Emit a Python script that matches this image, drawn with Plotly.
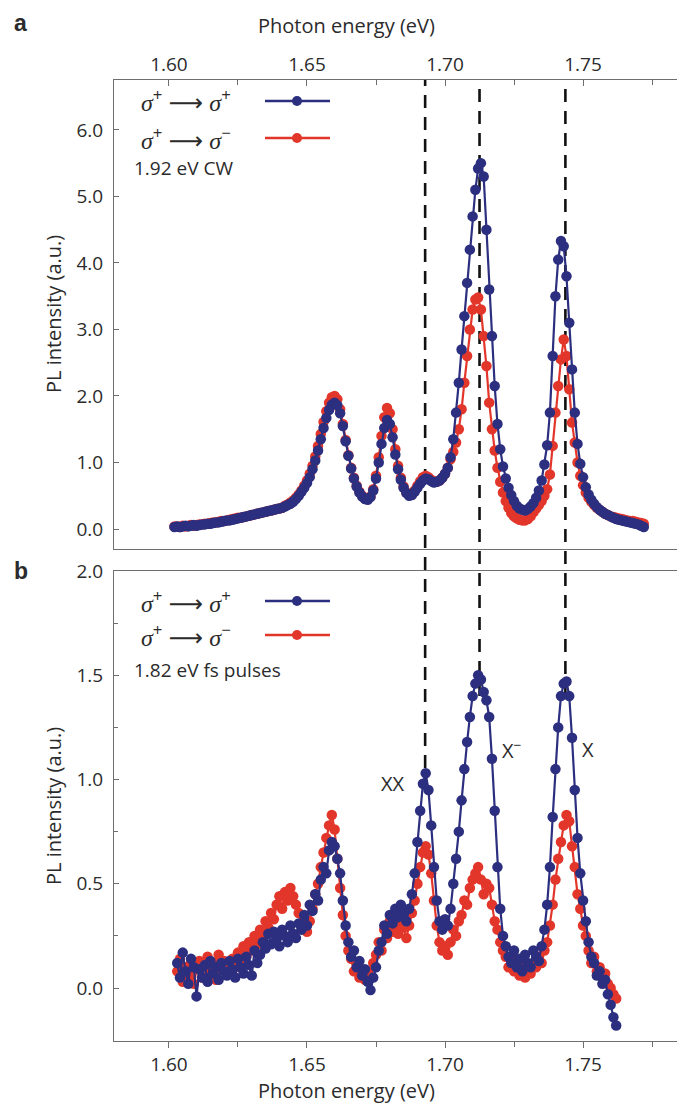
import numpy as np
import plotly.graph_objects as go

# ---------------- data ----------------
# photon-energy sampling grids (eV), 1 meV spectrometer step
E_A = np.round(1.602 + 0.001 * np.arange(171), 3)   # panel a: 1.602 .. 1.772
E_B = np.round(1.603 + 0.001 * np.arange(160), 3)   # panel b: 1.603 .. 1.762

# panel a, 1.92 eV CW excitation
a_co = [0.03,0.04,0.03,0.04,0.05,0.04,0.05,0.06,0.05,0.06,
        0.07,0.07,0.08,0.08,0.09,0.10,0.10,0.11,0.12,0.13,
        0.13,0.14,0.15,0.16,0.17,0.18,0.19,0.20,0.21,0.22,
        0.23,0.24,0.25,0.26,0.27,0.28,0.29,0.30,0.31,0.32,
        0.34,0.36,0.38,0.41,0.45,0.50,0.56,0.62,0.69,0.78,
        0.90,1.03,1.18,1.35,1.52,1.67,1.79,1.87,1.90,1.86,
        1.74,1.55,1.32,1.10,0.91,0.76,0.64,0.55,0.49,0.45,
        0.44,0.48,0.58,0.76,1.00,1.28,1.52,1.64,1.58,1.38,
        1.12,0.90,0.74,0.62,0.54,0.50,0.51,0.56,0.62,0.68,
        0.73,0.76,0.75,0.72,0.70,0.71,0.73,0.77,0.83,0.92,
        1.08,1.35,1.75,2.20,2.70,3.20,3.70,4.20,4.70,5.10,
        5.42,5.50,5.30,4.50,3.60,2.90,2.15,1.58,1.20,0.94,
        0.76,0.62,0.51,0.42,0.35,0.31,0.29,0.28,0.30,0.34,
        0.39,0.47,0.58,0.73,0.97,1.26,1.75,2.60,3.50,4.05,
        4.33,4.25,3.80,3.10,2.40,1.75,1.28,0.98,0.78,0.63,
        0.52,0.44,0.38,0.33,0.29,0.26,0.23,0.21,0.19,0.17,
        0.15,0.14,0.13,0.12,0.11,0.10,0.09,0.08,0.07,0.05,0.03]
a_cross = [0.04,0.04,0.03,0.05,0.04,0.05,0.06,0.05,0.06,0.07,
           0.07,0.08,0.08,0.09,0.10,0.10,0.11,0.12,0.12,0.13,
           0.14,0.15,0.16,0.17,0.17,0.18,0.19,0.20,0.21,0.22,
           0.23,0.24,0.25,0.26,0.27,0.28,0.29,0.30,0.31,0.32,
           0.35,0.37,0.40,0.43,0.47,0.52,0.58,0.65,0.73,0.83,
           0.95,1.09,1.25,1.43,1.61,1.77,1.90,1.98,2.00,1.95,
           1.80,1.58,1.34,1.11,0.92,0.77,0.65,0.56,0.50,0.46,
           0.45,0.49,0.60,0.80,1.08,1.40,1.68,1.82,1.74,1.50,
           1.20,0.95,0.77,0.64,0.55,0.51,0.52,0.58,0.65,0.72,
           0.78,0.80,0.78,0.74,0.71,0.71,0.73,0.77,0.83,0.92,
           1.05,1.16,1.30,1.50,1.80,2.20,2.60,3.00,3.30,3.45,
           3.48,3.30,2.90,2.45,1.90,1.50,1.18,0.92,0.71,0.55,
           0.42,0.32,0.24,0.19,0.16,0.14,0.13,0.13,0.15,0.19,
           0.25,0.31,0.36,0.42,0.50,0.60,0.82,1.25,1.75,2.15,
           2.55,2.85,2.60,2.10,1.60,1.30,1.00,0.80,0.66,0.55,
           0.47,0.41,0.36,0.32,0.29,0.26,0.23,0.21,0.19,0.18,
           0.17,0.16,0.15,0.14,0.13,0.12,0.12,0.11,0.10,0.09,0.08]

# panel b, 1.82 eV fs pulses
b_co = [0.12,0.05,0.17,0.08,0.02,0.14,0.10,-0.04,0.09,0.05,
        0.11,0.03,0.13,0.07,0.10,0.04,0.12,0.08,0.06,0.13,
        0.09,0.05,0.14,0.10,0.07,0.15,0.11,0.06,0.18,0.12,
        0.16,0.22,0.19,0.26,0.21,0.27,0.24,0.20,0.28,0.25,
        0.22,0.30,0.26,0.24,0.31,0.28,0.35,0.30,0.40,0.37,
        0.45,0.42,0.52,0.58,0.55,0.66,0.70,0.68,0.62,0.55,
        0.42,0.30,0.22,0.15,0.18,0.10,0.13,0.06,0.09,0.03,
        -0.01,0.05,0.10,0.18,0.22,0.30,0.26,0.35,0.31,0.38,
        0.34,0.40,0.36,0.32,0.38,0.45,0.55,0.70,0.85,0.98,
        1.03,0.95,0.78,0.58,0.42,0.32,0.28,0.33,0.30,0.38,
        0.50,0.62,0.75,0.90,1.05,1.18,1.30,1.40,1.46,1.50,
        1.48,1.42,1.38,1.30,1.10,0.85,0.58,0.38,0.25,0.20,
        0.15,0.12,0.18,0.10,0.14,0.08,0.16,0.12,0.10,0.18,
        0.15,0.13,0.20,0.28,0.40,0.58,0.82,1.05,1.25,1.40,
        1.46,1.47,1.40,1.20,0.95,0.72,0.55,0.42,0.32,0.22,
        0.15,0.12,0.06,0.08,0.02,0.04,-0.03,-0.08,-0.14,-0.18]
b_cross = [0.08,0.14,0.03,0.10,0.06,0.12,0.02,0.09,0.13,0.05,
           0.10,0.15,0.07,0.12,0.04,0.16,0.09,0.13,0.07,0.11,
           0.14,0.10,0.17,0.12,0.20,0.15,0.22,0.18,0.25,0.21,
           0.28,0.24,0.32,0.29,0.36,0.33,0.40,0.44,0.38,0.46,
           0.42,0.48,0.44,0.40,0.36,0.30,0.33,0.27,0.32,0.38,
           0.45,0.50,0.58,0.65,0.72,0.78,0.83,0.76,0.62,0.48,
           0.35,0.25,0.18,0.14,0.08,0.12,0.05,0.09,0.04,0.08,
           0.05,0.12,0.16,0.22,0.18,0.28,0.24,0.32,0.27,0.30,
           0.26,0.33,0.29,0.24,0.30,0.36,0.42,0.50,0.58,0.65,
           0.68,0.64,0.55,0.42,0.30,0.22,0.18,0.20,0.16,0.22,
           0.28,0.25,0.32,0.35,0.42,0.40,0.48,0.52,0.55,0.58,
           0.52,0.45,0.50,0.48,0.40,0.32,0.28,0.22,0.18,0.15,
           0.10,0.14,0.08,0.12,0.06,0.10,0.05,0.09,0.07,0.12,
           0.10,0.15,0.12,0.18,0.22,0.30,0.40,0.52,0.62,0.70,
           0.78,0.83,0.80,0.68,0.58,0.45,0.38,0.30,0.25,0.18,
           0.12,0.15,0.08,0.10,0.05,0.07,0.02,0.00,-0.03,-0.05]

# exciton resonances (XX, X-, X) in eV and where their guide lines stop in panel b
PEAK_E = [1.6928, 1.7125, 1.7436]
PEAK_STOP_B = [0.95, 1.40, 1.40]
X_TICKS = [1.60, 1.65, 1.70, 1.75]

assert len(a_co) == len(E_A) == len(a_cross)
assert len(b_co) == len(E_B) == len(b_cross)

# ---------------- layout geometry ----------------
W, H = 685, 1105
ML, MR, MT, MB = 106, 2, 72, 72
PW, PH = W - ML - MR, H - MT - MB
def fx(px): return (px - ML) / PW
def fy(py): return (H - MB - py) / PH

A_TOP, A_BOT = 72, 541
B_TOP, B_BOT = 563, 1033
X_RANGE = [1.5801, 1.7891]
YA_RANGE = [-0.30, 6.75]
YB_RANGE = [-0.254, 2.0]

BLUE = "#2c2f7f"
RED = "#e3362b"
AX = "#6e6e6e"
TXT = "#2b2b2b"
FONT = "Open Sans"

fig = go.Figure()

def add(E, y, color, name, xa, ya):
    fig.add_trace(go.Scatter(x=E, y=y, mode="lines+markers", name=name,
                             xaxis=xa, yaxis=ya, showlegend=False,
                             line=dict(color=color, width=2.2),
                             marker=dict(color=color, size=10.5, line=dict(width=0))))

add(E_A, a_cross, RED, "σ+ → σ−", "x2", "y2")
add(E_A, a_co, BLUE, "σ+ → σ+", "x2", "y2")
add(E_B, b_cross, RED, "σ+ → σ−", "x", "y")
add(E_B, b_co, BLUE, "σ+ → σ+", "x", "y")

tickfont = dict(family=FONT, size=19, color=TXT)
common_x = dict(range=X_RANGE, tickvals=X_TICKS, tickformat=".2f", showline=True,
                linecolor=AX, linewidth=1.2, mirror=True, showgrid=False, zeroline=False,
                tickcolor=AX, tickwidth=1.2, ticklen=6, tickfont=tickfont)
common_y = dict(tickformat=".1f", showline=True, linecolor=AX, linewidth=1.2, mirror=True,
                showgrid=False, zeroline=False, tickcolor=AX, tickwidth=1.2, ticklen=5,
                ticks="inside", tickfont=tickfont, ticklabelstandoff=6)

fig.update_layout(
    width=W, height=H, margin=dict(l=ML, r=MR, t=MT, b=MB),
    paper_bgcolor="white", plot_bgcolor="white",
    xaxis=dict(domain=[0, 1], anchor="y", ticks="outside",
               minor=dict(dtick=0.025, tick0=1.6, ticks="outside", ticklen=5,
                          tickcolor=AX, tickwidth=1.2), **common_x),
    xaxis2=dict(domain=[0, 1], anchor="y2", side="top", ticks="inside",
                minor=dict(dtick=0.025, tick0=1.6, ticks="inside", ticklen=5,
                           tickcolor=AX, tickwidth=1.2), **common_x),
    yaxis=dict(domain=[0, fy(B_TOP)], anchor="x", range=YB_RANGE, tick0=0, dtick=0.5,
               minor=dict(dtick=0.25, tick0=0, ticks="inside", ticklen=4,
                          tickcolor=AX, tickwidth=1.2), **common_y),
    yaxis2=dict(domain=[fy(A_BOT), 1], anchor="x2", range=YA_RANGE, tick0=0, dtick=1,
                **common_y),
)

# dashed guide lines through both panels
b_lo, b_hi = 0.0, fy(B_TOP)
for e, stop in zip(PEAK_E, PEAK_STOP_B):
    y0 = b_lo + (stop - YB_RANGE[0]) / (YB_RANGE[1] - YB_RANGE[0]) * (b_hi - b_lo)
    fig.add_shape(type="line", xref="x", yref="paper", x0=e, x1=e, y0=y0, y1=1,
                  line=dict(color="#111111", width=2.6, dash="13px,9px"), layer="below")

ann = []
def text(px, py, s, size=20, xanchor="center", **kw):
    ann.append(dict(xref="paper", yref="paper", x=fx(px), y=fy(py), text=s,
                    showarrow=False, xanchor=xanchor, yanchor="middle",
                    font=dict(family=kw.pop("family", FONT), size=size, color=TXT), **kw))

# axis titles
text(338, 18, "Photon energy (eV)", size=20)
text(338, 1082, "Photon energy (eV)", size=20)
text(45, 306, "PL intensity (a.u.)", size=20, textangle=-90)
text(45, 798, "PL intensity (a.u.)", size=20, textangle=-90)
# panel letters
text(4, 15, "<b>a</b>", size=23, xanchor="left", family="Liberation Sans")
text(4, 563, "<b>b</b>", size=23, xanchor="left", family="Liberation Sans")

sig = '<span style="font-family:Liberation Serif"><i>σ</i></span>'
arrow = '<span style="font-family:DejaVu Sans">⟶</span>'
leg_co = f"{sig}<sup>+</sup> {arrow} {sig}<sup>+</sup>"
leg_cr = f"{sig}<sup>+</sup> {arrow} {sig}<sup>−</sup>"

for (r1, r2, r3, label) in [(93, 130, 160, "1.92 eV CW"), (593, 627, 662, "1.82 eV fs pulses")]:
    text(131, r1, leg_co, size=24, xanchor="left")
    text(131, r2, leg_cr, size=24, xanchor="left")
    text(124, r3, label, size=19, xanchor="left")
    for ry, col in [(r1, BLUE), (r2, RED)]:
        fig.add_shape(type="line", xref="paper", yref="paper", x0=fx(257), x1=fx(322),
                      y0=fy(ry), y1=fy(ry), line=dict(color=col, width=2.6))
        fig.add_shape(type="circle", xref="paper", yref="paper", xsizemode="pixel",
                      ysizemode="pixel", xanchor=fx(289), yanchor=fy(ry),
                      x0=-5, x1=5, y0=-5, y1=5, fillcolor=col, line=dict(width=0))

# peak labels in panel b
text(385, 775, "XX", size=20)
text(504, 742, "X<sup>−</sup>", size=20)
text(580, 742, "X", size=20)

fig.update_layout(annotations=ann)
fig.write_html("out.html")
